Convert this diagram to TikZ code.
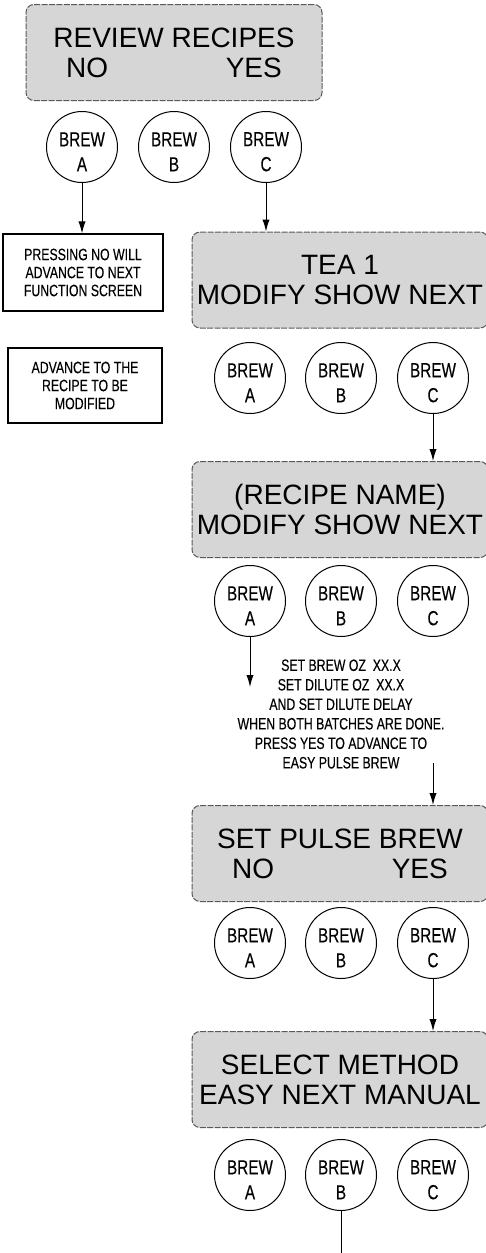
\documentclass[tikz,border=0pt]{standalone}
\usepackage{fontspec}
\setmainfont{Liberation Sans}
\newfontfamily\condfont[FakeStretch=0.75,FakeBold=0.25]{Liberation Sans}
\usetikzlibrary{arrows.meta,positioning}
\definecolor{lcdgray}{RGB}{214,214,214}

\begin{document}
\begin{tikzpicture}[
  x=0.5pt,y=-0.5pt,
  screen/.style={rectangle,rounded corners=4pt,draw=black!65,fill=lcdgray,line width=0.5pt,dash pattern=on 3pt off 0.7pt,minimum width=148pt,minimum height=48pt,inner sep=0pt,align=center,font=\fontsize{14}{15}\selectfont},
  btn/.style={circle,draw=black,line width=0.5pt,minimum size=35.5pt,inner sep=0pt},
  btnlab/.style={align=center,inner sep=0pt,yshift=-2.4pt,font=\condfont\fontsize{10.2}{12.5}\selectfont},
  note/.style={rectangle,draw=black,line width=0.6pt,inner sep=0pt,align=center,font=\condfont\fontsize{8.2}{9}\selectfont},
  lab/.style={align=center,inner sep=0pt,font=\condfont\fontsize{8.2}{9.75}\selectfont},
  arc/.style={-{Latex[length=6pt,width=3.6pt]},line width=0.5pt},
  wire/.style={line width=0.5pt},
]
\useasboundingbox (0,0) rectangle (486,1253);
% review recipes
\node[screen] (scr1) at (174,52.5) {REVIEW RECIPES\\NO\hspace{4.2em}YES};
\node[btn] (r1a) at (82,147) {}; \node[btnlab] (r1al) at (r1a) {BREW\\A};
\node[btn] (r1b) at (174,147) {}; \node[btnlab] (r1bl) at (r1b) {BREW\\B};
\node[btn] (r1c) at (266,147) {}; \node[btnlab] (r1cl) at (r1c) {BREW\\C};
\node[note,minimum width=80pt,minimum height=38.5pt] (note1) at (83,272.5) {PRESSING NO WILL\\ADVANCE TO NEXT\\FUNCTION SCREEN};
\node[note,minimum width=77pt,minimum height=37.5pt] (note2) at (85,385.5) {ADVANCE TO THE\\RECIPE TO BE\\MODIFIED};
\draw[arc] (r1a) -- (r1a |- note1.north);
% tea 1
\node[screen] (scr2) at (340,280) {TEA 1\\MODIFY SHOW NEXT};
\draw[arc] (r1c) -- (r1c |- scr2.north);
\node[btn] (r2a) at (250,378) {}; \node[btnlab] (r2al) at (r2a) {BREW\\A};
\node[btn] (r2b) at (341,378) {}; \node[btnlab] (r2bl) at (r2b) {BREW\\B};
\node[btn] (r2c) at (433,378) {}; \node[btnlab] (r2cl) at (r2c) {BREW\\C};
% recipe name
\node[screen] (scr3) at (340,509.5) {(RECIPE NAME)\\MODIFY SHOW NEXT};
\draw[arc] (r2c) -- (r2c |- scr3.north);
\node[btn] (r3a) at (250,601) {}; \node[btnlab] (r3al) at (r3a) {BREW\\A};
\node[btn] (r3b) at (341,601) {}; \node[btnlab] (r3bl) at (r3b) {BREW\\B};
\node[btn] (r3c) at (433,601) {}; \node[btnlab] (r3cl) at (r3c) {BREW\\C};
\coordinate (aend) at (250,687);
\draw[arc] (r3a) -- (aend);
\node[lab] (setlab) at (341,714) {SET BREW OZ\ \ XX.X\\SET DILUTE OZ\ \ XX.X\\AND SET DILUTE DELAY\\WHEN BOTH BATCHES ARE DONE.\\PRESS YES TO ADVANCE TO\\EASY PULSE BREW};
\coordinate (pstart) at (433,763);
% pulse brew
\node[screen] (scr4) at (340,853.5) {SET PULSE BREW\\NO\hspace{4.2em}YES};
\draw[arc] (pstart) -- (pstart |- scr4.north);
\node[btn] (r4a) at (250,943) {}; \node[btnlab] (r4al) at (r4a) {BREW\\A};
\node[btn] (r4b) at (341,943) {}; \node[btnlab] (r4bl) at (r4b) {BREW\\B};
\node[btn] (r4c) at (433,943) {}; \node[btnlab] (r4cl) at (r4c) {BREW\\C};
% method
\node[screen] (scr5) at (340,1079.5) {SELECT METHOD\\EASY NEXT MANUAL};
\draw[arc] (r4c) -- (r4c |- scr5.north);
\node[btn] (r5a) at (250,1175) {}; \node[btnlab] (r5al) at (r5a) {BREW\\A};
\node[btn] (r5b) at (341,1175) {}; \node[btnlab] (r5bl) at (r5b) {BREW\\B};
\node[btn] (r5c) at (433,1175) {}; \node[btnlab] (r5cl) at (r5c) {BREW\\C};
\coordinate (bend) at (341,1253);
\draw[wire] (r5b) -- (bend);
\end{tikzpicture}
\end{document}
